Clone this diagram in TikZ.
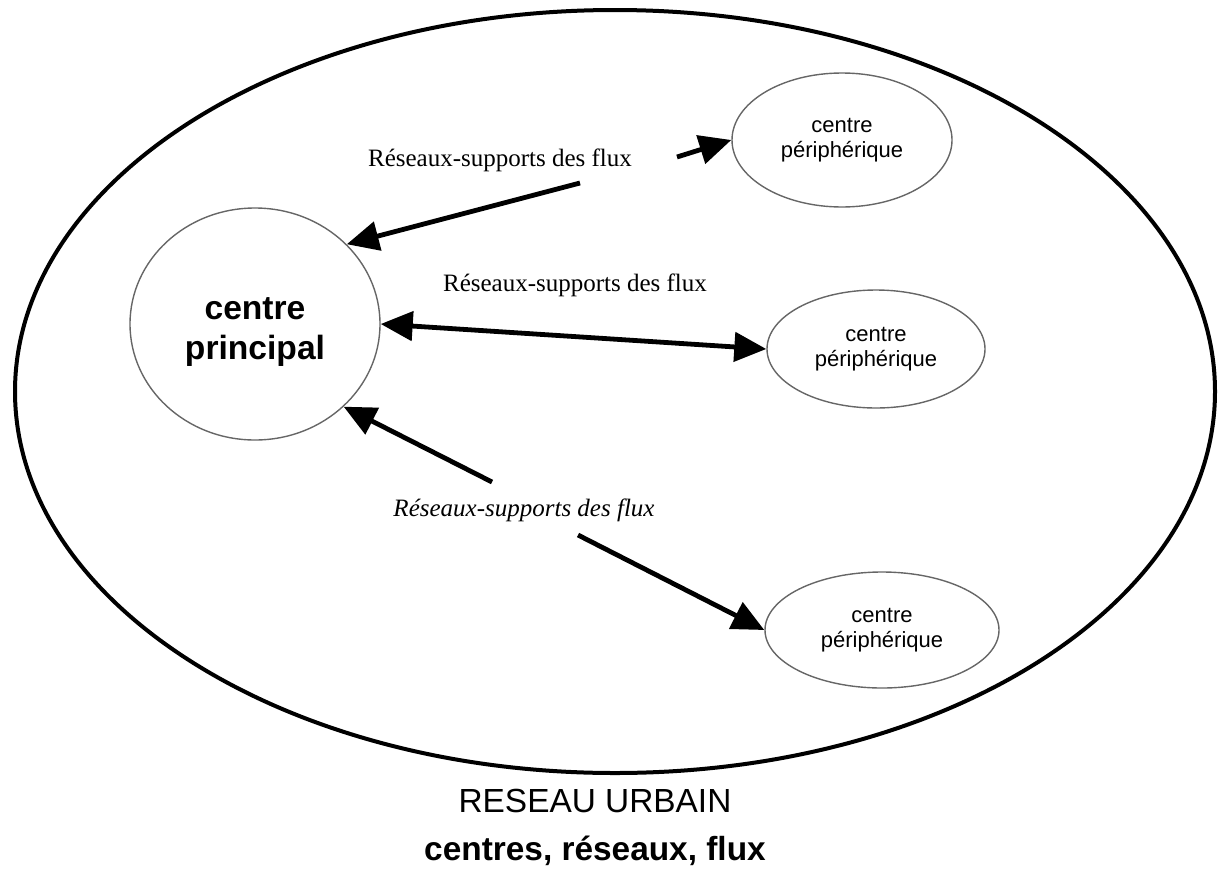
\documentclass[tikz,border=0pt]{standalone}
\usepackage{fontspec}
\setmainfont{Liberation Serif}
\newfontfamily\arialfont{Liberation Sans}
\usetikzlibrary{shapes.geometric,arrows.meta}
\begin{document}
\begin{tikzpicture}[x=0.5pt,y=-0.5pt,
  flowarrow/.style={line width=2.4pt, -{Triangle[length=16pt,width=14.5pt]}},
  flowboth/.style={line width=2.4pt, {Triangle[length=16pt,width=14.5pt]}-{Triangle[length=16pt,width=14.5pt]}},
  centrebox/.style={draw=black!60, line width=0.7pt, ellipse, inner sep=0pt, align=center},
  periph/.style={centrebox, font=\arialfont\fontsize{11}{12.5}\selectfont},
  flowlabel/.style={font=\fontsize{12.5}{15}\selectfont, inner sep=0pt},
]
\useasboundingbox (0,0) rectangle (1220,868);
\node[draw, line width=2pt, ellipse, minimum width=600pt, minimum height=381.5pt] (urban) at (615,391.5) {};
\node[centrebox, minimum width=125pt, minimum height=116pt, font=\arialfont\bfseries\fontsize{16.8}{20}\selectfont] (cp) at (255,324) {\rule{0pt}{19pt}centre\\principal};
\node[periph, minimum width=110pt, minimum height=67pt] (p1) at (842,140) {centre\\périphérique};
\node[periph, minimum width=109pt, minimum height=59pt] (p2) at (876,349) {centre\\périphérique};
\node[periph, minimum width=117pt, minimum height=58pt] (p3) at (882,630) {centre\\périphérique};
\node[flowlabel] (l1) at (500,160) {Réseaux-supports des flux};
\node[flowlabel] (l2) at (575,285) {Réseaux-supports des flux};
\node[flowlabel, font=\fontsize{12.5}{15}\selectfont\itshape] (l3) at (524,510) {Réseaux-supports des flux};
\coordinate (t1) at (580,183);
\coordinate (t2) at (677,157);
\coordinate (t3) at (492,482);
\coordinate (t4) at (578,535);
\draw[flowarrow] (t1) -- (cp.41.7);
\draw[flowarrow] (t2) -- (p1.west);
\draw[flowboth] (cp.0) -- (p2.west);
\draw[flowarrow] (t3) -- (cp.-43);
\draw[flowarrow] (t4) -- (p3.west);
\node[align=center, inner sep=0pt, font=\arialfont\fontsize{16.7}{24}\selectfont] (title) at (595,827) {RESEAU URBAIN\\\textbf{centres, réseaux, flux}};
\end{tikzpicture}
\end{document}
